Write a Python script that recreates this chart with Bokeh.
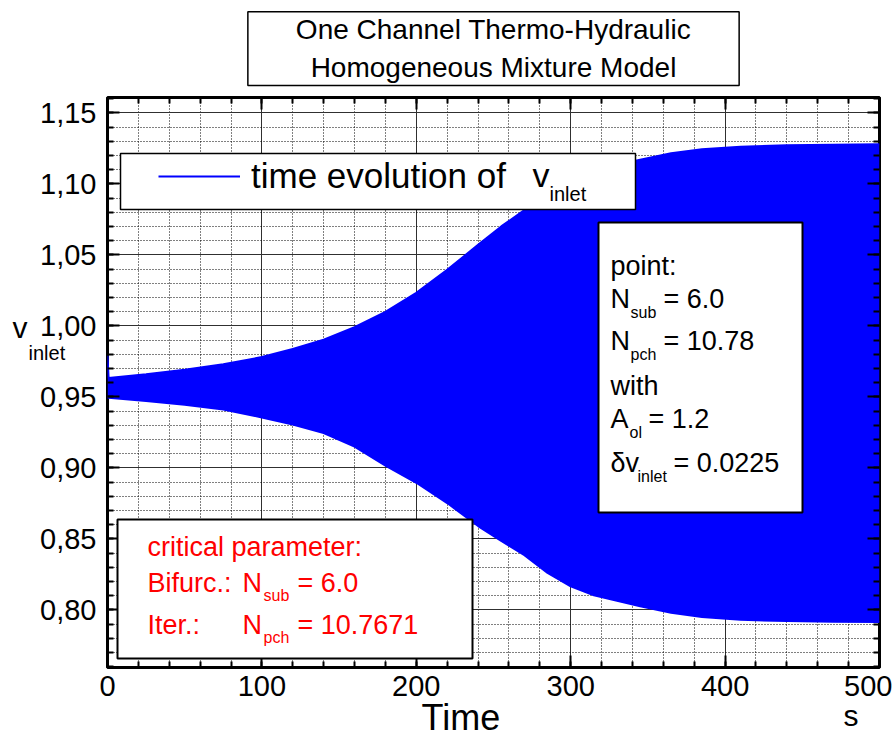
from bokeh.plotting import figure
from bokeh.models import (Range1d, LinearAxis, FixedTicker, CustomJSTickFormatter,
                          BoxAnnotation, Label, Legend, LegendItem)
from bokeh.embed import file_html
from bokeh.resources import INLINE

# Envelope (max / min) of the inlet velocity oscillation over time
time_s = [0.0, 0.7, 25, 50, 75, 100, 120, 140, 160, 180, 200, 220, 240, 255, 270,
          285, 300, 315, 330, 345, 365, 385, 410, 440, 470, 500]
v_upper = [0.979, 0.9632, 0.9660, 0.9690, 0.9730, 0.9780, 0.9838, 0.9903, 0.9990,
           1.0098, 1.0232, 1.0395, 1.0570, 1.0700, 1.0815, 1.0925, 1.1020, 1.1090,
           1.1135, 1.1170, 1.1215, 1.1243, 1.1262, 1.1272, 1.1276, 1.1278]
v_lower = [0.9494, 0.9494, 0.9470, 0.9445, 0.9410, 0.9355, 0.9305, 0.9245, 0.9150,
           0.9015, 0.8895, 0.8752, 0.8590, 0.8485, 0.8385, 0.8260, 0.8165, 0.8103,
           0.8063, 0.8025, 0.7980, 0.7950, 0.7930, 0.7921, 0.7917, 0.7914]

# Axis ticks
x_ticks = [0, 100, 200, 300, 400, 500]
x_minor = list(range(0, 501, 20))
y_ticks = [0.80, 0.85, 0.90, 0.95, 1.00, 1.05, 1.10, 1.15]
y_minor = [round(0.76 + 0.01 * i, 2) for i in range(41)]

X_MIN, X_MAX = 0, 500
Y_MIN, Y_MAX = 0.7594, 1.1608

W, H = 892, 740
F_LEFT, F_RIGHT, F_TOP, F_BOTTOM = 107, 879, 97, 667
FONT = "Liberation Sans"
BLUE = "#0000FF"
RED = "#FF0000"
BASE_SHIFT = 0.36  # em offset applied to alphabetic baselines


def dx(px):
    return X_MIN + (px - F_LEFT) / (F_RIGHT - F_LEFT) * (X_MAX - X_MIN)


def dy(py):
    return Y_MAX - (py - F_TOP) / (F_BOTTOM - F_TOP) * (Y_MAX - Y_MIN)


p = figure(width=W, height=H, output_backend="svg", toolbar_location=None,
           x_range=Range1d(X_MIN, X_MAX), y_range=Range1d(Y_MIN, Y_MAX),
           min_border_left=F_LEFT, min_border_right=W - F_RIGHT,
           min_border_top=F_TOP, min_border_bottom=H - F_BOTTOM)
p.background_fill_color = "white"
p.border_fill_color = "white"
p.outline_line_color = "black"
p.outline_line_width = 3

xt = FixedTicker(ticks=x_ticks, minor_ticks=x_minor)
yt = FixedTicker(ticks=y_ticks, minor_ticks=y_minor)
blank = CustomJSTickFormatter(code="return ''")


def style_axis(ax, labels=True):
    ax.axis_line_color = None
    ax.major_tick_in = 12
    ax.major_tick_out = 0
    ax.minor_tick_in = 6
    ax.minor_tick_out = 0
    ax.major_tick_line_color = "black"
    ax.major_tick_line_width = 2
    ax.minor_tick_line_color = "black"
    ax.minor_tick_line_width = 2
    if labels:
        ax.major_label_text_font = FONT
        ax.major_label_text_font_size = "29px"
        ax.major_label_text_color = "black"
    else:
        ax.formatter = blank
        ax.major_label_standoff = 0
        ax.major_label_text_font_size = "1px"


p.xaxis[0].ticker = xt
p.yaxis[0].ticker = yt
p.yaxis[0].formatter = CustomJSTickFormatter(code="return tick.toFixed(2).replace('.', ',')")
style_axis(p.xaxis[0])
style_axis(p.yaxis[0])
p.xaxis[0].major_label_standoff = 8
p.yaxis[0].major_label_standoff = 11

top_ax = LinearAxis(ticker=xt)
right_ax = LinearAxis(ticker=yt)
style_axis(top_ax, labels=False)
style_axis(right_ax, labels=False)
p.add_layout(top_ax, "above")
p.add_layout(right_ax, "right")

for g, t in ((p.xgrid[0], xt), (p.ygrid[0], yt)):
    g.ticker = t
    g.grid_line_color = "#303030"
    g.grid_line_width = 1
    g.minor_grid_line_color = "black"
    g.minor_grid_line_width = 1
    g.minor_grid_line_dash = "1 2"

# Oscillating inlet velocity: filled band between its envelopes
p.varea(x=time_s, y1=v_lower, y2=v_upper, fill_color=BLUE, fill_alpha=1)
up_line = p.line(time_s, v_upper, line_color=BLUE, line_width=2)
p.line(time_s, v_lower, line_color=BLUE, line_width=2)


def box(l, t, r, b, lw=1.5):
    p.add_layout(BoxAnnotation(left=dx(l), right=dx(r), top=dy(t), bottom=dy(b),
                               fill_color="white", fill_alpha=1,
                               line_color="black", line_width=lw, line_alpha=1))


def lab(text, px, py, size, color="black", align="left", place="center"):
    p.add_layout(Label(x=dx(px), y=dy(py - BASE_SHIFT * size), text=text,
                       text_font=FONT, text_font_size=f"{size}px", text_color=color,
                       text_align=align, text_baseline="alphabetic"), place)


# Title box above the frame
p.add_layout(Label(x=dx(493), y=dy(48),
                   text="One Channel Thermo-Hydraulic\nHomogeneous Mixture Model",
                   text_font=FONT, text_font_size="28px", text_color="black",
                   text_align="center", text_baseline="middle", text_line_height=1.25,
                   background_fill_color="white", border_line_color="black",
                   border_line_width=1.5,
                   padding=dict(left=48, right=48, top=2, bottom=2)), "above")

# Legend
box(120, 153, 635, 209)
legend = Legend(items=[LegendItem(label="time evolution of", renderers=[up_line])],
                location=(158 - F_LEFT, F_BOTTOM - 196), padding=0, spacing=0, margin=0,
                glyph_width=82, glyph_height=20, label_standoff=11,
                border_line_alpha=0, background_fill_alpha=0,
                label_text_font=FONT, label_text_font_size="35px",
                label_text_color="black")
p.add_layout(legend)
lab("v", 532, 187, 34)
lab("inlet", 549, 201, 20)

# Operating point box
box(598, 222, 802, 512, lw=2)
lab("point:", 610, 275, 27)
lab("N", 610, 308, 27)
lab("sub", 630, 318, 16)
lab("= 6.0", 663, 308, 27)
lab("N", 610, 350, 27)
lab("pch", 630, 360, 16)
lab("= 10.78", 663, 350, 27)
lab("with", 610, 395, 27)
lab("A", 610, 428, 27)
lab("ol", 629, 438, 16)
lab("= 1.2", 648, 428, 27)
lab("\u03b4v", 610, 472, 27)
lab("inlet", 637, 482, 16)
lab("= 0.0225", 673, 472, 27)

# Critical parameter box
box(117, 519, 472, 658, lw=2)
lab("critical parameter:", 147, 556, 27, RED)
lab("Bifurc.:", 147, 592, 27, RED)
lab("N", 242, 592, 27, RED)
lab("sub", 263, 601, 16, RED)
lab("= 6.0", 297, 592, 27, RED)
lab("Iter.:", 147, 634, 27, RED)
lab("N", 242, 634, 27, RED)
lab("pch", 263, 643, 16, RED)
lab("= 10.7671", 297, 634, 27, RED)

# Axis titles outside the frame
lab("v", 12, 338, 30, place="left")
lab("inlet", 28, 360, 20, place="above")
lab("Time", 421, 730, 36, place="below")
lab("s", 843, 726, 30, place="left")

open("out.html", "w").write(file_html(p, INLINE))
